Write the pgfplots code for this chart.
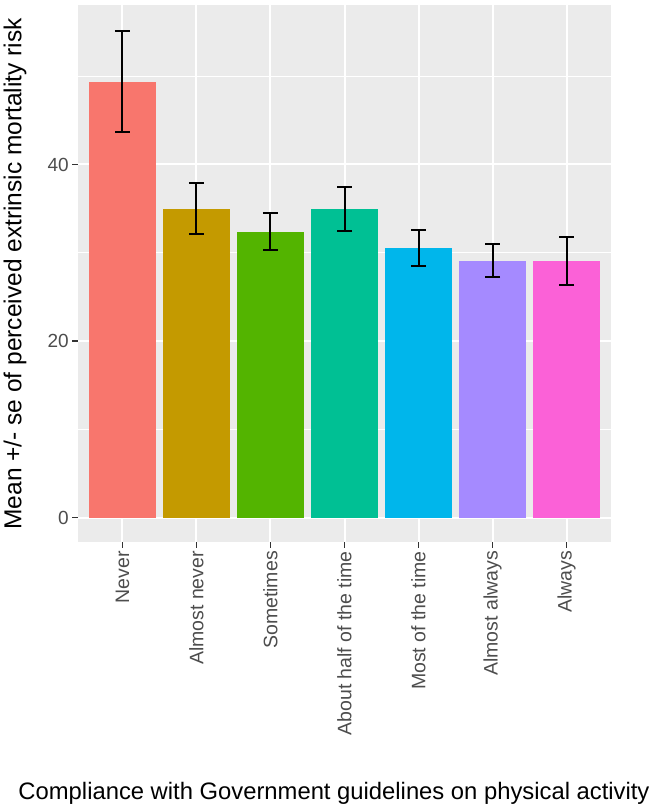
\documentclass[border=0pt]{standalone}
\usepackage{pgfplots}
\pgfplotsset{compat=1.18}
\usepackage{fontspec}
\setmainfont{Liberation Sans}
\definecolor{panelbg}{HTML}{EBEBEB}
\definecolor{tickgrey}{HTML}{4D4D4D}
\definecolor{tickline}{HTML}{333333}
\definecolor{c1}{HTML}{F8766D}
\definecolor{c2}{HTML}{C49A00}
\definecolor{c3}{HTML}{53B400}
\definecolor{c4}{HTML}{00C094}
\definecolor{c5}{HTML}{00B6EB}
\definecolor{c6}{HTML}{A58AFF}
\definecolor{c7}{HTML}{FB61D7}
\begin{document}
\begin{tikzpicture}[x=1pt,y=1pt]
\begin{axis}[
  at={(78pt,268pt)}, anchor=south west,
  scale only axis, width=533pt, height=537pt,
  xmin=0.4, xmax=7.6, ymin=-2.77, ymax=58.07,
  axis background/.style={fill=panelbg},
  axis line style={draw=none},
  xtick={1,...,7},
  xticklabels={Never,Almost never,Sometimes,About half of the time,Most of the time,Almost always,Always},
  ytick={0,20,40},
  minor ytick={10,30,50},
  xtick pos=bottom, ytick pos=left,
  /pgf/number format/assume math mode=true,
  grid=both,
  major grid style={white, line width=2pt},
  minor grid style={white, line width=1pt},
  tick align=outside,
  major tick length=6pt, minor tick length=0pt,
  tick style={tickline, line width=1.4pt},
  tick label style={text=tickgrey},
  xticklabel style={font=\fontsize{19.5}{22}\selectfont, rotate=90, anchor=east, inner sep=3pt},
  yticklabel style={font=\fontsize{19}{22}\selectfont, inner sep=3pt},
  ybar, bar width=0.9, bar shift=0pt,
  every axis plot/.append style={draw=none},
  error bars/y dir=both, error bars/y explicit,
  error bars/error bar style={draw=black, solid, line width=2pt},
  error bars/error mark options={draw=black, line width=2pt, mark size=7.5pt, rotate=90},
  clip=false,
]
\addplot[fill=c1] coordinates {(1,49.4) +- (0,5.7)};
\addplot[fill=c2] coordinates {(2,35.0) +- (0,2.85)};
\addplot[fill=c3] coordinates {(3,32.4) +- (0,2.05)};
\addplot[fill=c4] coordinates {(4,34.95) +- (0,2.5)};
\addplot[fill=c5] coordinates {(5,30.5) +- (0,2.05)};
\addplot[fill=c6] coordinates {(6,29.1) +- (0,1.9)};
\addplot[fill=c7] coordinates {(7,29.1) +- (0,2.7)};
\end{axis}
\node[rotate=90, font=\fontsize{24.5}{28}\selectfont] at (15pt,536pt) {Mean +/- se of perceived extrinsic mortality risk};
\node[font=\fontsize{23.8}{27}\selectfont] at (334pt,17pt) {Compliance with Government guidelines on physical activity};
\pgfresetboundingbox
\path[use as bounding box] (0,0) rectangle (657pt,810pt);
\end{tikzpicture}
\end{document}
